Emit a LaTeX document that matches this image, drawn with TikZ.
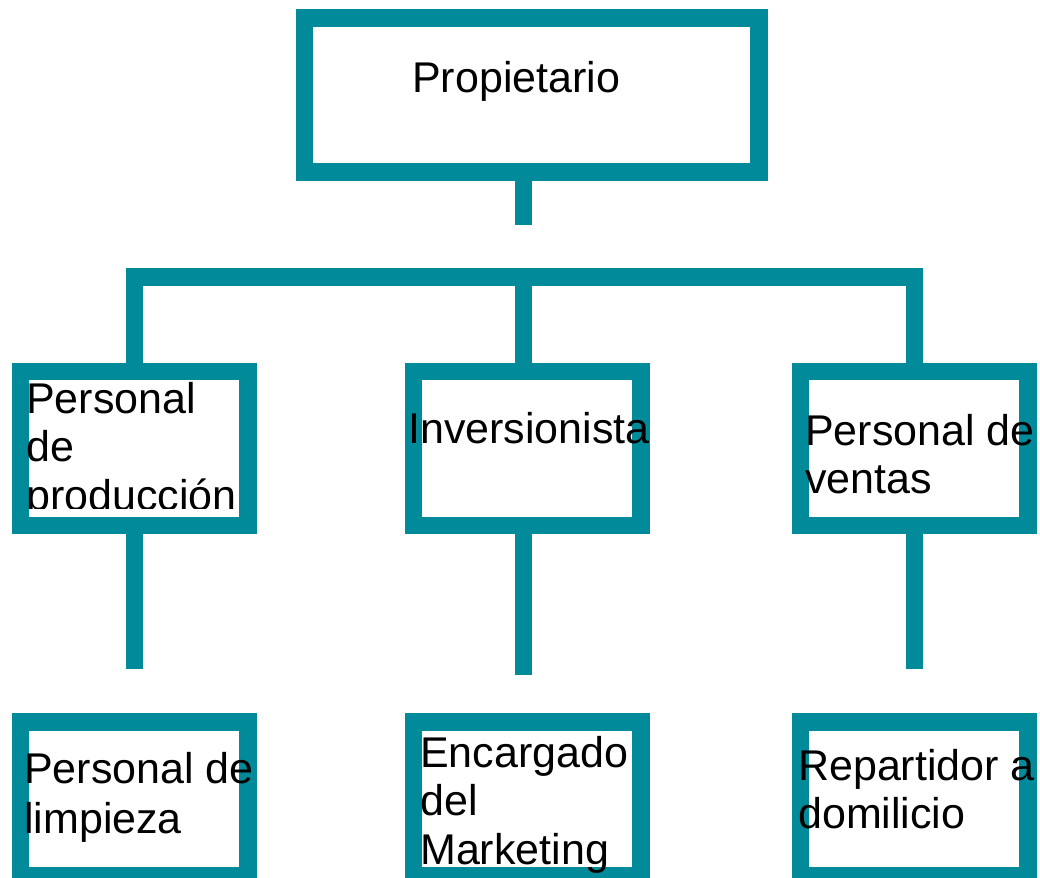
\documentclass[tikz,border=0pt]{standalone}
\usepackage{fontspec}
\setmainfont{Liberation Sans}
\usepackage{tikz}
\definecolor{chartteal}{RGB}{0,138,154}

\begin{document}
\begin{tikzpicture}[x = 1pt, y = -1pt,
    box/.style = {draw = chartteal, line width = 17.5pt, fill = white, inner sep = 0pt,
                  minimum width = 227.5pt, minimum height = 154pt},
    stem/.style = {draw = chartteal, line width = 17.5pt},
    txt/.style = {anchor = base west, inner sep = 0pt, align = left,
                  font = \fontsize{43}{48.5}\selectfont}]
  \useasboundingbox (0, 0) rectangle (1040, 877);

  % boxes
  \node[box, minimum width = 454.5pt] (prop) at (531.75, 95) {};
  \node[box] (prod) at (134.25, 448.5) {};
  \node[box] (inv) at (527, 448.5) {};
  \node[box] (ventas) at (914.25, 448.5) {};
  \node[box] (limp) at (134.25, 799) {};
  \node[box] (mark) at (527, 799) {};
  \node[box] (rep) at (914.25, 799) {};

  % connectors
  \coordinate (bar) at (523.5, 277);
  \coordinate (topend) at (523.5, 225);
  \coordinate (prodend) at (134.25, 669);
  \coordinate (invend) at (523.5, 675);
  \coordinate (ventasend) at (914.25, 669);
  \draw[stem] (prop.south -| bar) -- (topend);
  \draw[stem, line join = miter] (prod.north) |- (bar) -| (ventas.north);
  \draw[stem] (bar) -- (bar |- inv.north);
  \draw[stem] (prod.south) -- (prodend);
  \draw[stem] (inv.south -| invend) -- (invend);
  \draw[stem] (ventas.south) -- (ventasend);

  % texts (base = last line)
  \node[txt] (propt) at (412, 93) {Propietario};
  \begin{scope}
    \clip (0, 363) rectangle (260, 508);
    \node[txt] (prodt) at (26, 510) {Personal\\de\\producción};
  \end{scope}
  \node[txt] (invt) at (408, 443) {Inversionista};
  \node[txt] (ventast) at (805, 493.5) {Personal de\\ventas};
  \node[txt, font = \fontsize{43}{50}\selectfont] (limpt) at (24, 833) {Personal de\\limpieza};
  \node[txt] (markt) at (420, 864) {Encargado\\del\\Marketing};
  \node[txt] (rept) at (798, 828.5) {Repartidor a\\domilicio};
\end{tikzpicture}
\end{document}
